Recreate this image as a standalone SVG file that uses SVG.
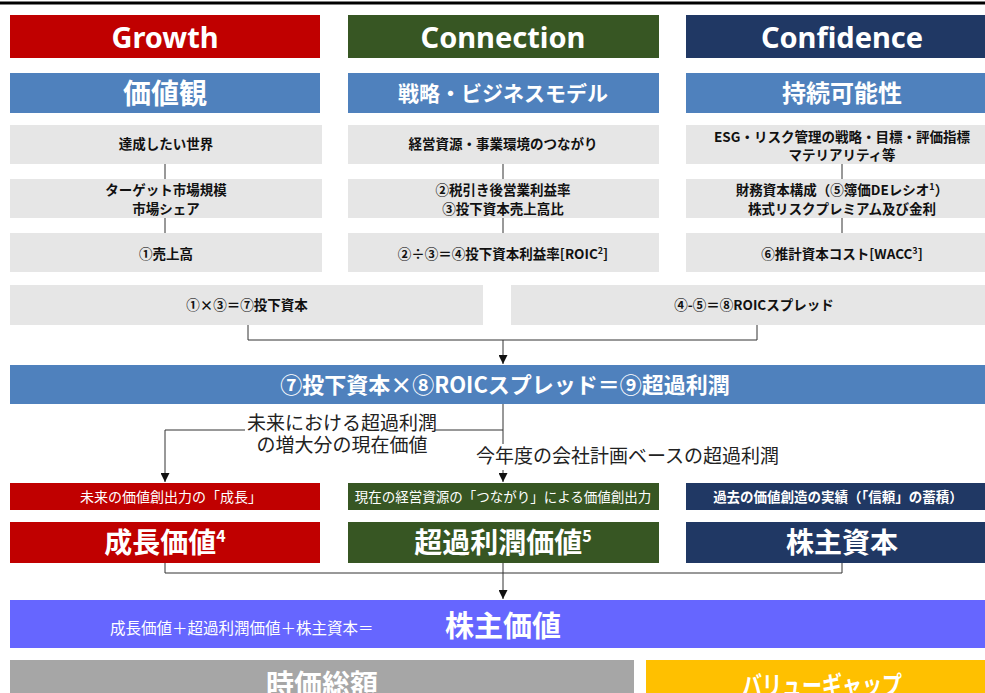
<svg xmlns="http://www.w3.org/2000/svg" width="985" height="693" viewBox="0 0 985 693">
<defs>
<style>
.jp{font-family:"Noto Sans CJK JP","Noto Sans",sans-serif}
.en{font-family:"Noto Sans","Liberation Sans",sans-serif;font-weight:700}
.w{fill:#fff}
.k{fill:#111}
.b{font-weight:700}
.gray{fill:#E6E6E6}
.con{fill:none;stroke:#333;stroke-width:1}
</style>
<marker id="ah" viewBox="0 0 10 10" refX="10" refY="5" markerWidth="9" markerHeight="9" markerUnits="userSpaceOnUse" orient="auto">
<path d="M0,0 L10,5 L0,10 z" fill="#111"/>
</marker>
</defs>
<rect x="0" y="0" width="985" height="693" fill="#fff"/>
<rect x="0" y="1.5" width="985" height="3" fill="#000"/>

<g id="connectors">
<line class="con" x1="165" y1="164" x2="165" y2="179"/>
<line class="con" x1="165" y1="218" x2="165" y2="233"/>
<line class="con" x1="503" y1="164" x2="503" y2="179"/>
<line class="con" x1="503" y1="218" x2="503" y2="233"/>
<line class="con" x1="842" y1="164" x2="842" y2="179"/>
<line class="con" x1="842" y1="218" x2="842" y2="233"/>
<path class="con" d="M248,325 V340 H757 V325"/>
<path class="con" d="M503,340 V364" marker-end="url(#ah)"/>
<path class="con" d="M503,404 V430 H165 V482" marker-end="url(#ah)"/>
<path class="con" d="M503,430 V482" marker-end="url(#ah)"/>
<path class="con" d="M165,563 V573 H842 V563"/>
<path class="con" d="M503,563 V599" marker-end="url(#ah)"/>
</g>

<g id="growth"><rect x="10" y="15" width="310" height="43" fill="#C00000"/><text class="en w" x="165" y="48" font-size="29" text-anchor="middle">Growth</text></g>
<g id="connection"><rect x="348" y="15" width="311" height="43" fill="#375623"/><text class="en w" x="503" y="48" font-size="29" text-anchor="middle">Connection</text></g>
<g id="confidence"><rect x="686" y="15" width="299" height="43" fill="#203864"/><text class="en w" x="842" y="48" font-size="29" text-anchor="middle">Confidence</text></g>

<g id="values"><rect x="10" y="73" width="310" height="40" fill="#4F81BD"/><text class="jp w b" x="165" y="104" font-size="28" text-anchor="middle">価値観</text></g>
<g id="strategy"><rect x="348" y="73" width="311" height="40" fill="#4F81BD"/><text class="jp w b" x="503" y="101" font-size="21" text-anchor="middle">戦略・ビジネスモデル</text></g>
<g id="sustain"><rect x="686" y="73" width="299" height="40" fill="#4F81BD"/><text class="jp w b" x="842" y="102" font-size="24" text-anchor="middle">持続可能性</text></g>

<g id="g1a"><rect class="gray" x="10" y="125" width="312" height="39"/><text class="jp k b" x="166" y="149" font-size="13.5" text-anchor="middle">達成したい世界</text></g>
<g id="g1b"><rect class="gray" x="10" y="179" width="312" height="39"/><text class="jp k b" font-size="13.5" text-anchor="middle"><tspan x="166" y="195">ターゲット市場規模</tspan><tspan x="166" y="214">市場シェア</tspan></text></g>
<g id="g1c"><rect class="gray" x="10" y="233" width="312" height="39"/><text class="jp k b" x="166" y="259" font-size="13.5" text-anchor="middle">①売上高</text></g>

<g id="g2a"><rect class="gray" x="348" y="125" width="311" height="39"/><text class="jp k b" x="503" y="149" font-size="13.5" text-anchor="middle">経営資源・事業環境のつながり</text></g>
<g id="g2b"><rect class="gray" x="348" y="179" width="311" height="39"/><text class="jp k b" font-size="13.5" text-anchor="middle"><tspan x="503" y="195">②税引き後営業利益率</tspan><tspan x="503" y="214">③投下資本売上高比</tspan></text></g>
<g id="g2c"><rect class="gray" x="348" y="233" width="311" height="39"/><text class="jp k b" x="503" y="259" font-size="13.5" text-anchor="middle">②÷③＝④投下資本利益率[ROIC<tspan font-size="9" dy="-5">2</tspan><tspan dy="5">]</tspan></text></g>

<g id="g3a"><rect class="gray" x="686" y="125" width="299" height="39"/><text class="jp k b" font-size="13.5" text-anchor="middle"><tspan x="842" y="142">ESG・リスク管理の戦略・目標・評価指標</tspan><tspan x="842" y="160">マテリアリティ等</tspan></text></g>
<g id="g3b"><rect class="gray" x="686" y="179" width="299" height="39"/><text class="jp k b" font-size="13.5" text-anchor="middle"><tspan x="842" y="195">財務資本構成（⑤簿価DEレシオ<tspan font-size="9" dy="-5">1</tspan><tspan dy="5">）</tspan></tspan><tspan x="842" y="214">株式リスクプレミアム及び金利</tspan></text></g>
<g id="g3c"><rect class="gray" x="686" y="233" width="299" height="39"/><text class="jp k b" x="842" y="259" font-size="13.5" text-anchor="middle">⑥推計資本コスト[WACC<tspan font-size="9" dy="-5">3</tspan><tspan dy="5">]</tspan></text></g>

<g id="invested"><rect class="gray" x="10" y="285" width="473" height="40"/><text class="jp k b" x="247" y="310" font-size="13.5" text-anchor="middle">①×③＝⑦投下資本</text></g>
<g id="spread"><rect class="gray" x="511" y="285" width="474" height="40"/><text class="jp k b" x="754" y="310" font-size="13.5" text-anchor="middle">④-⑤＝⑧ROICスプレッド</text></g>

<g id="excess"><rect x="10" y="365" width="975" height="39" fill="#4F81BD"/><text class="jp w b" x="505" y="393" font-size="22" text-anchor="middle">⑦投下資本×⑧ROICスプレッド＝⑨超過利潤</text></g>

<g id="label-future"><rect x="245" y="412" width="190" height="41" fill="#fff"/><text class="jp" fill="#222" font-size="19" text-anchor="middle"><tspan x="342" y="430">未来における超過利潤</tspan><tspan x="342" y="452">の増大分の現在価値</tspan></text></g>
<g id="label-current"><rect x="474" y="444" width="308" height="26" fill="#fff"/><text class="jp" fill="#222" x="476" y="463" font-size="19">今年度の会社計画ベースの超過利潤</text></g>

<g id="sub-growth"><rect x="10" y="483" width="310" height="27" fill="#C00000"/><text class="jp w" x="171" y="502" font-size="14" text-anchor="middle">未来の価値創出力の「成長」</text></g>
<g id="sub-connection"><rect x="348" y="483" width="311" height="27" fill="#375623"/><text class="jp w" x="503" y="502" font-size="13.5" text-anchor="middle">現在の経営資源の「つながり」による価値創出力</text></g>
<g id="sub-confidence"><rect x="686" y="483" width="299" height="27" fill="#203864"/><text class="jp w b" x="838" y="502" font-size="13.5" text-anchor="middle">過去の価値創造の実績（「信頼」の蓄積）</text></g>

<g id="growth-value"><rect x="10" y="522" width="310" height="41" fill="#C00000"/><text class="jp w b" x="165" y="553" font-size="28" text-anchor="middle">成長価値<tspan font-size="16" dy="-11">4</tspan></text></g>
<g id="excess-value"><rect x="348" y="522" width="311" height="41" fill="#375623"/><text class="jp w b" x="503" y="553" font-size="28" text-anchor="middle">超過利潤価値<tspan font-size="16" dy="-11">5</tspan></text></g>
<g id="equity"><rect x="686" y="522" width="299" height="41" fill="#203864"/><text class="jp w b" x="842" y="553" font-size="28" text-anchor="middle">株主資本</text></g>

<g id="shareholder-value"><rect x="10" y="600" width="975" height="48" fill="#6666FF"/><text class="jp w" x="110" y="634" font-size="15.5">成長価値＋超過利潤価値＋株主資本＝</text><text class="jp w b" x="503" y="637" font-size="29" text-anchor="middle">株主価値</text></g>

<g id="market-cap"><rect x="10" y="660" width="624" height="40" fill="#A6A6A6"/><text class="jp w b" x="322" y="695" font-size="28" text-anchor="middle">時価総額</text></g>
<g id="value-gap"><rect x="646" y="660" width="339" height="40" fill="#FFC000"/><text class="jp w b" x="822" y="695" font-size="26" text-anchor="middle" textLength="160" lengthAdjust="spacingAndGlyphs">バリューギャップ</text></g>
</svg>
